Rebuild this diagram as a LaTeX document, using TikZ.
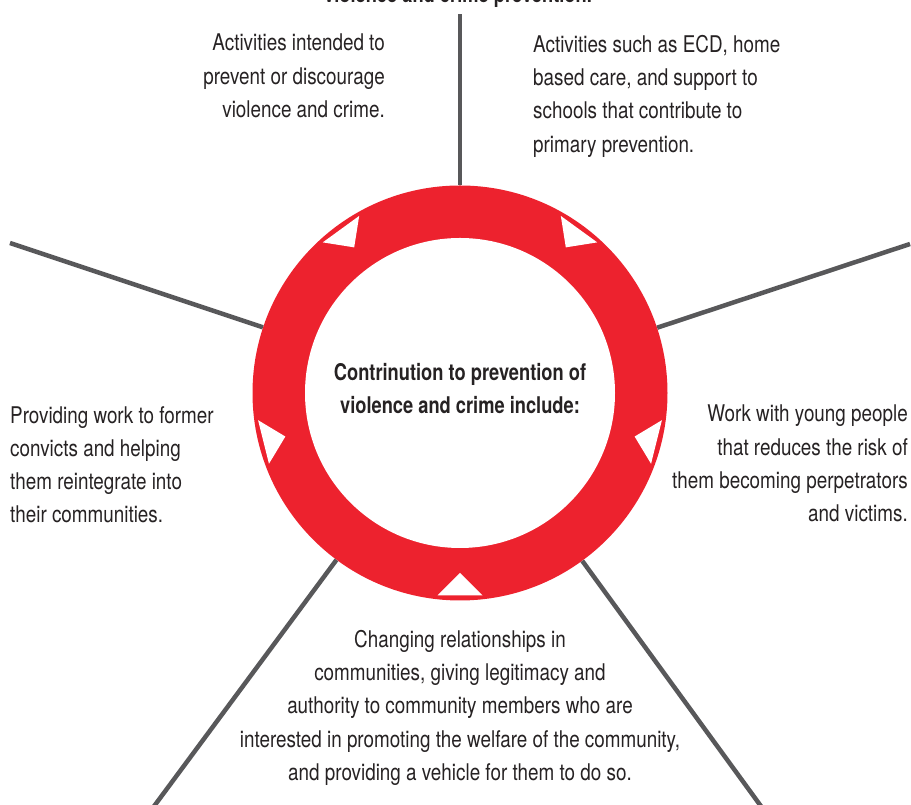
\documentclass[tikz,border=0pt]{standalone}
\usepackage{fontspec}
\setmainfont{TeX Gyre Heros}[FakeStretch=0.82, BoldFeatures={FakeStretch=0.795}]
\definecolor{ringred}{RGB}{237,34,46}
\definecolor{spokegray}{RGB}{88,88,90}
\definecolor{txt}{RGB}{38,34,35}
\tikzset{
  lbl/.style={font=\fontsize{23}{33.3}\selectfont, text=txt, inner sep=0pt},
  spk/.style={draw=spokegray, line width=4.5pt},
  notch/.style={fill=white, draw=none},
}
\begin{document}
\begin{tikzpicture}[x=1pt,y=1pt]
\useasboundingbox (0,0) rectangle (911,805);
\coordinate (c) at (460,412);
% spoke ends
\coordinate (eT)  at (460,791);
\coordinate (eUL) at (10,562);
\coordinate (eUR) at (910,561);
\coordinate (eLL) at (152,-4);
\coordinate (eLR) at (763,-4);
% ring
\node[circle, fill=ringred, minimum size=415pt, inner sep=0pt] (ring) at (c) {};
\draw[spk] (ring) -- (eT);
\draw[spk] (ring) -- (eUL);
\draw[spk] (ring) -- (eUR);
\draw[spk] (ring) -- (eLL);
\draw[spk] (ring) -- (eLR);
\foreach \a in {-90,-14,54,126,194}
  \fill[notch, shift={(c)}, rotate=\a] (202.5,-22.5) -- (202.5,22.5) -- (180,0) -- cycle;
\node[circle, fill=white, minimum size=310pt, inner sep=0pt] (hub) at (c) {};
\node[lbl, font=\fontsize{23}{33}\selectfont\bfseries, align=center, anchor=north] (center) at (460,442)
  {Contrinution to prevention of\\violence and crime include:};
% texts
\node[lbl, font=\fontsize{23}{33}\selectfont\bfseries, anchor=base] (toptitle) at (458,802)
  {violence and crime prevention.};
\node[lbl, align=right, anchor=north east] (tl) at (385,771)
  {Activities intended to\\prevent or discourage\\violence and crime.};
\node[lbl, align=left, anchor=north west] (tr) at (533,770)
  {Activities such as ECD, home\\based care, and support to\\schools that contribute to\\primary prevention.};
\node[lbl, align=left, anchor=north west] (lf) at (10,399)
  {Providing work to former\\convicts and helping\\them reintegrate into\\their communities.};
\node[lbl, align=right, anchor=north east] (rt) at (908,400)
  {Work with young people\\that reduces the risk of\\them becoming perpetrators\\and victims.};
\node[lbl, align=center, anchor=north] (bt) at (460,175)
  {Changing relationships in\\communities, giving legitimacy and\\authority to community members who are\\interested in promoting the welfare of the community,\\and providing a vehicle for them to do so.};
\end{tikzpicture}
\end{document}
